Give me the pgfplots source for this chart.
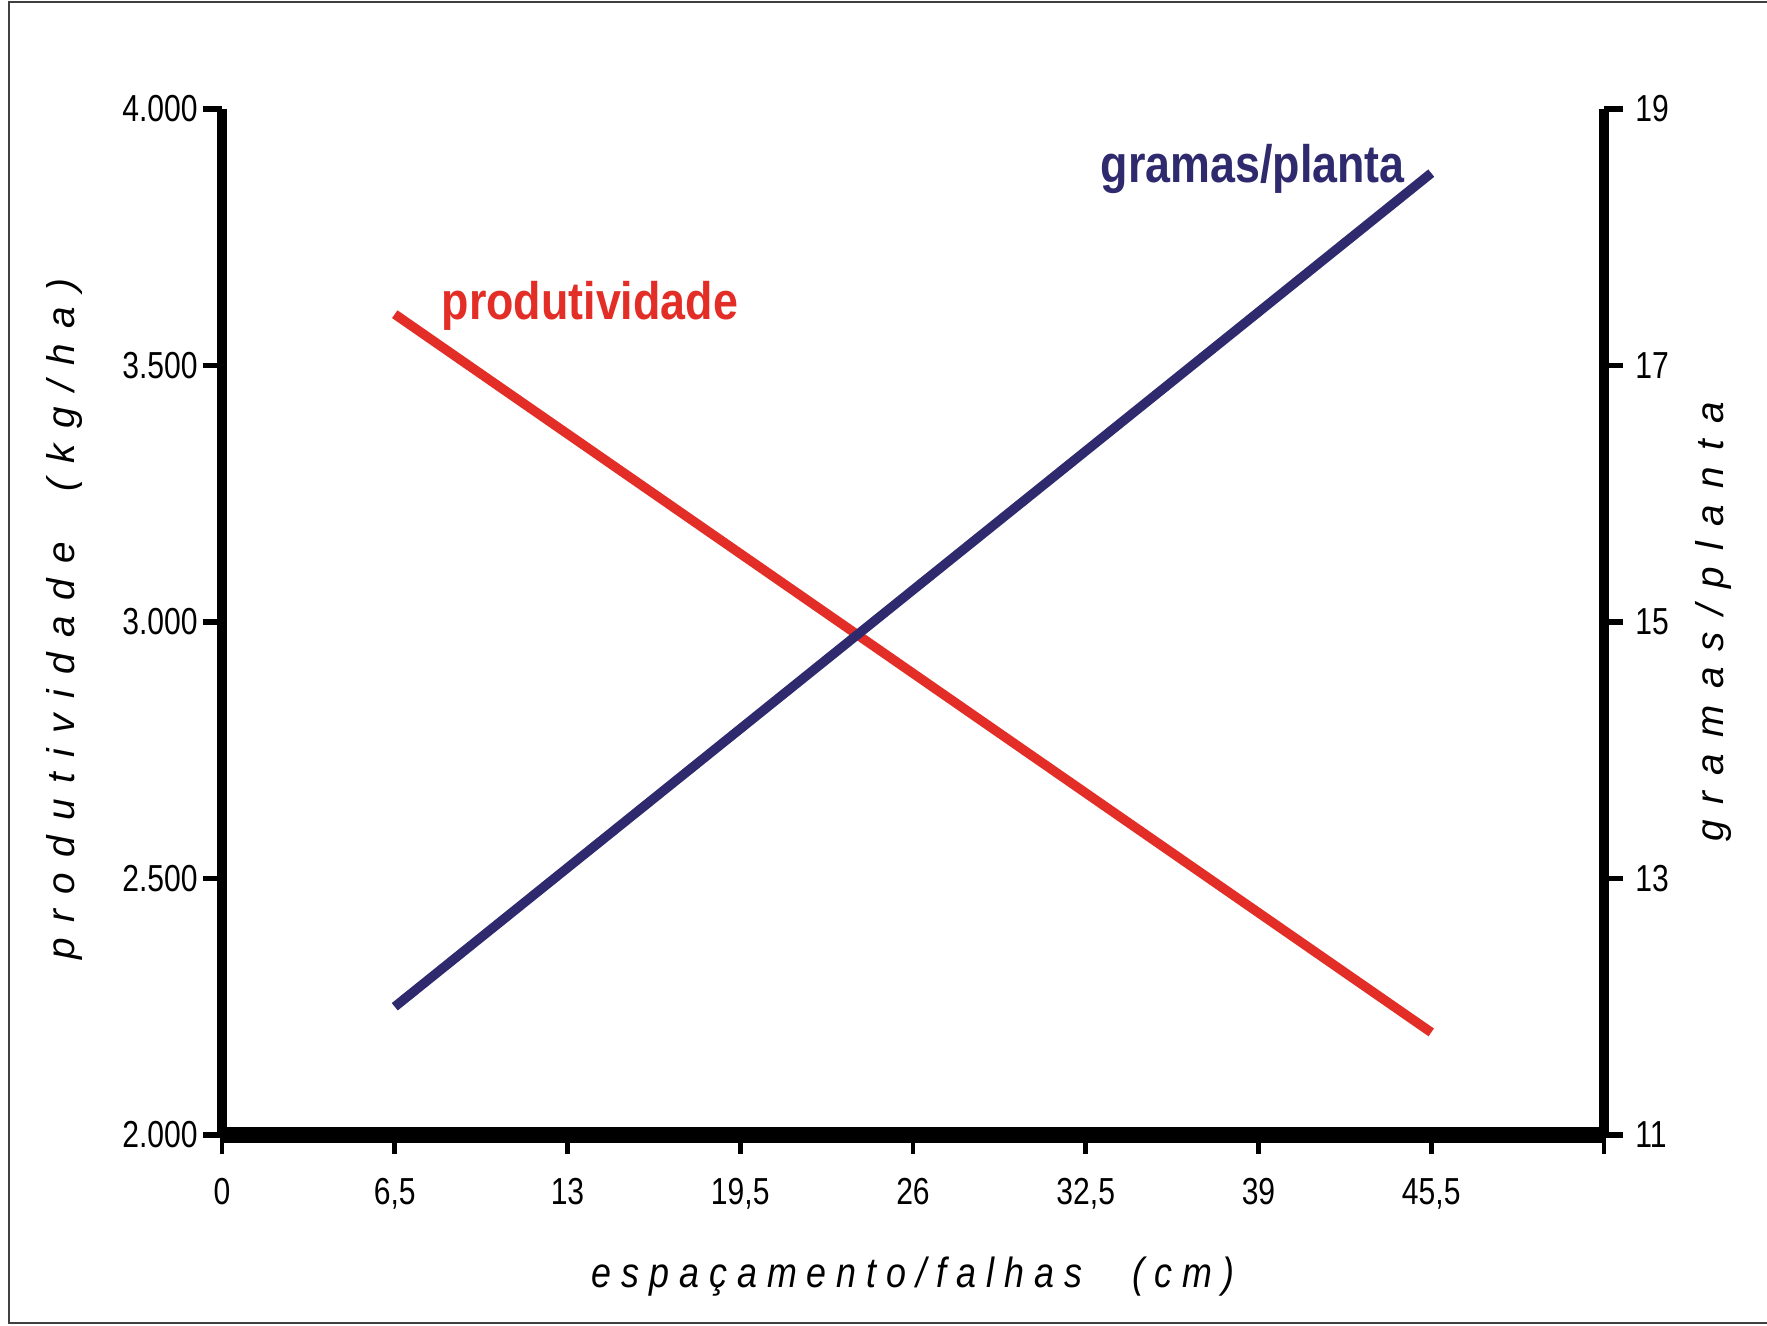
\documentclass[border=0pt]{standalone}
\usepackage{pgfplots}
\pgfplotsset{compat=1.18}
\usepackage{fontspec}
\setmainfont{Liberation Sans}[FakeStretch=0.85]
\newfontfamily\narrowfont{Liberation Sans}[FakeStretch=0.8]
\newfontfamily\widefont{Liberation Sans}
\definecolor{redline}{RGB}{226,46,38}
\definecolor{navyline}{RGB}{47,42,110}
\newcommand{\ylabA}{{\widefont\itshape\fontsize{11}{13}\selectfont\spaceskip=0.4em\relax p r o d u t i v i d a d e\hspace{1.3em}( k g / h a )}}
\newcommand{\ylabB}{{\widefont\itshape\fontsize{11}{13}\selectfont\spaceskip=0.42em\relax g r a m a s / p l a n t a}}
\begin{document}
\begin{tikzpicture}
\useasboundingbox (-2.22,-1.90) rectangle (15.45,11.35);
\draw[line width=0.8pt, black!75] (15.45,11.33) -- (-2.13,11.33) -- (-2.13,-1.88) -- (15.45,-1.88);
\begin{axis}[
  at={(0,0)}, anchor=south west,
  scale only axis, width=13.82cm, height=10.26cm,
  xmin=0, xmax=52, ymin=2000, ymax=4000,
  axis lines*=left,
  x axis line style={line width=4.5pt},
  y axis line style={line width=2.9pt},
  xtick={0,6.5,13,19.5,26,32.5,39,45.5,52},
  xticklabels={0,{6,5},13,{19,5},26,{32,5},39,{45,5},{}},
  ytick={2000,2500,3000,3500,4000},
  yticklabels={2.000,2.500,3.000,3.500,4.000},
  tick align=outside,
  major tick length=0.19cm,
  x tick style={line width=1.3pt, black},
  y tick style={line width=1.7pt, black},
  tick label style={font=\narrowfont\fontsize{10.7}{12}\selectfont, black},
  xticklabel style={yshift=-0.12cm},
  yticklabel style={xshift=0.07cm},
  clip=false,
]
\addplot[redline, line width=2.7pt] coordinates {(6.5,3600) (45.5,2200)};
\node[anchor=base west, text=redline, font=\bfseries\fontsize{15}{18}\selectfont] at (axis cs:7.8,3590) {produtividade};
\node[anchor=base west, text=navyline, font=\bfseries\fontsize{15}{18}\selectfont] at (axis cs:32.6,3856) {gramas/planta};
\node[rotate=90] at (rel axis cs:-0.114,0.503) {\ylabA};
\node[font=\itshape\fontsize{12}{14}\selectfont] at (rel axis cs:0.5,-0.138) {e s p a ç a m e n t o / f a l h a s\hspace{1.2em}( c m )};
\end{axis}
\begin{axis}[
  at={(0,0)}, anchor=south west,
  scale only axis, width=13.82cm, height=10.26cm,
  xmin=0, xmax=52, ymin=11, ymax=19,
  axis y line*=right, axis x line=none,
  y axis line style={line width=2.9pt},
  ytick={11,13,15,17,19},
  yticklabels={11,13,15,17,19},
  tick align=outside,
  major tick length=0.19cm,
  y tick style={line width=1.7pt, black},
  tick label style={font=\narrowfont\fontsize{10.7}{12}\selectfont, black},
  clip=false,
]
\addplot[navyline, line width=2.7pt] coordinates {(6.5,12.0) (45.5,18.5)};
\node[rotate=90] at (rel axis cs:1.079,0.5) {\ylabB};
\end{axis}
\end{tikzpicture}
\end{document}
